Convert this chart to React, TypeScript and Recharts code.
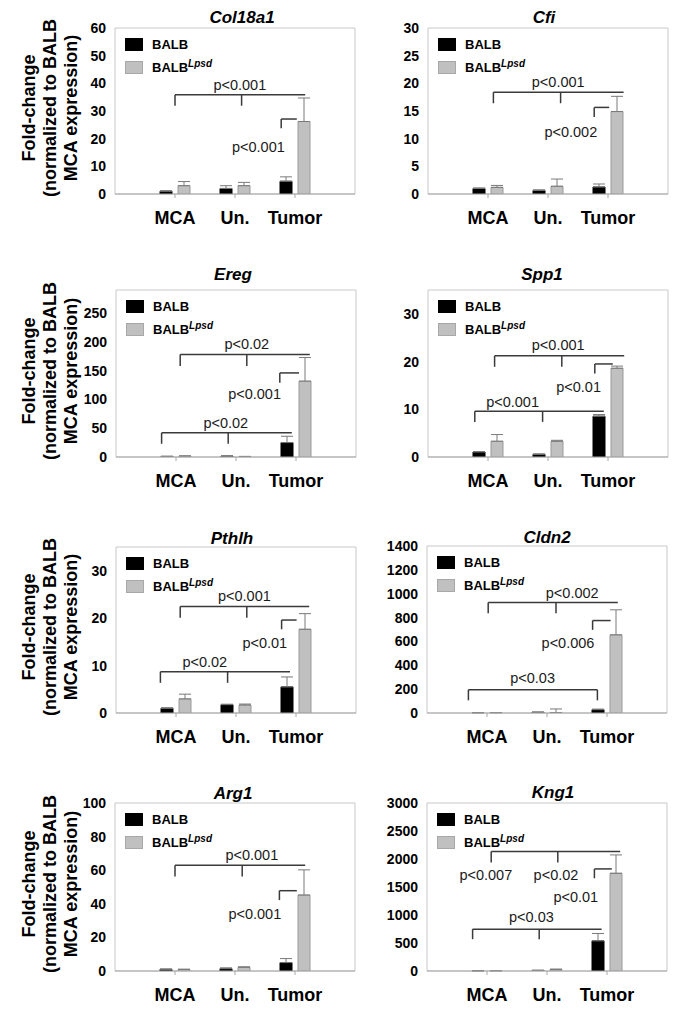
import React from "react";
import {
  BarChart,
  Bar,
  XAxis,
  YAxis,
  ErrorBar,
  ReferenceLine,
  ReferenceDot,
  ReferenceArea,
} from "recharts";

const categories = ["MCA", "Un.", "Tumor"];
const categoryPositions = [1, 2, 3];
const seriesNames = ["BALB", "BALB"];
const seriesSuperscripts = ["", "Lpsd"];
const yAxisLabelLines = ["Fold-change", "(normalized to BALB", "MCA expression)"];

// bracket: [xStart, xEnd, yLine, yDrop, xMiddleTick | null, yRightDrop | null]
type Bracket = [number, number, number, number, number | null, number | null];
type PLabel = [string, number, number];

// Col18a1
const col18a1Balb = [1.0, 2.0, 4.6];
const col18a1BalbErr = [0.2, 1.0, 1.6];
const col18a1Lpsd = [3.0, 3.0, 26.2];
const col18a1LpsdErr = [1.5, 1.2, 8.5];
const col18a1Ticks = [0, 10, 20, 30, 40, 50, 60];
const col18a1Brackets: Bracket[] = [
  [1.0, 3.17, 35.9, 31.9, 2.11, null],
  [2.77, 3.03, 27.1, 23.8, null, null],
];
const col18a1Labels: PLabel[] = [
  ["p<0.001", 2.08, 39.5],
  ["p<0.001", 2.39, 17.2],
];

// Cfi
const cfiBalb = [1.0, 0.65, 1.26];
const cfiBalbErr = [0.1, 0.1, 0.55];
const cfiLpsd = [1.2, 1.4, 14.9];
const cfiLpsdErr = [0.35, 1.3, 2.75];
const cfiTicks = [0, 5, 10, 15, 20, 25, 30];
const cfiBrackets: Bracket[] = [
  [1.09, 3.26, 18.4, 16.4, 2.21, null],
  [2.77, 3.02, 15.65, 13.9, null, null],
];
const cfiLabels: PLabel[] = [
  ["p<0.001", 2.17, 20.35],
  ["p<0.002", 2.38, 11.3],
];

// Ereg
const eregBalb = [1.0, 1.5, 25];
const eregBalbErr = [0.3, 0.5, 11];
const eregLpsd = [1.5, 0.8, 131.7];
const eregLpsdErr = [0.5, 0.3, 41];
const eregTicks = [0, 50, 100, 150, 200, 250];
const eregBrackets: Bracket[] = [
  [1.07, 3.23, 178, 158, 2.18, null],
  [2.73, 3.05, 146, 129, null, null],
  [0.76, 2.93, 42, 23, 1.87, null],
];
const eregLabels: PLabel[] = [
  ["p<0.02", 2.18, 197],
  ["p<0.001", 2.31, 110],
  ["p<0.02", 1.83, 59],
];

// Spp1
const spp1Balb = [1.05, 0.57, 8.55];
const spp1BalbErr = [0.1, 0.05, 0.35];
const spp1Lpsd = [3.3, 3.3, 18.6];
const spp1LpsdErr = [1.4, 0.2, 0.45];
const spp1Ticks = [0, 10, 20, 30];
const spp1Brackets: Bracket[] = [
  [1.11, 3.27, 21.2, 18.9, 2.23, null],
  [2.78, 3.08, 19.5, 17.5, null, null],
  [0.78, 2.93, 9.6, 7.36, 1.91, null],
];
const spp1Labels: PLabel[] = [
  ["p<0.001", 2.17, 23.6],
  ["p<0.01", 2.51, 14.7],
  ["p<0.001", 1.41, 11.6],
];

// Pthlh
const pthlhBalb = [1.0, 1.76, 5.5];
const pthlhBalbErr = [0.1, 0.1, 2.1];
const pthlhLpsd = [2.97, 1.69, 17.65];
const pthlhLpsdErr = [1.0, 0.2, 3.3];
const pthlhTicks = [0, 10, 20, 30];
const pthlhBrackets: Bracket[] = [
  [1.07, 3.22, 22.45, 20.1, 2.18, null],
  [2.76, 3.01, 19.6, 17.65, null, null],
  [0.74, 2.9, 8.7, 6.36, 1.86, null],
];
const pthlhLabels: PLabel[] = [
  ["p<0.001", 2.14, 24.7],
  ["p<0.01", 2.48, 14.8],
  ["p<0.02", 1.48, 10.8],
];

// Cldn2
const cldn2Balb = [1, 6, 28];
const cldn2BalbErr = [0.5, 2, 5];
const cldn2Lpsd = [2, 4, 655];
const cldn2LpsdErr = [1, 30, 210];
const cldn2Ticks = [0, 200, 400, 600, 800, 1000, 1200, 1400];
const cldn2Brackets: Bracket[] = [
  [1.02, 3.18, 926, 837, 2.15, null],
  [2.76, 3.06, 775, 697, null, null],
  [0.69, 2.84, 195, 106, null, 106],
];
const cldn2Labels: PLabel[] = [
  ["p<0.002", 2.42, 1009],
  ["p<0.006", 2.35, 591],
  ["p<0.03", 1.76, 293],
];

// Arg1
const arg1Balb = [1.0, 1.4, 5.0];
const arg1BalbErr = [0.2, 0.5, 2.4];
const arg1Lpsd = [0.9, 2.2, 45.2];
const arg1LpsdErr = [0.2, 0.3, 15];
const arg1Ticks = [0, 20, 40, 60, 80, 100];
const arg1Brackets: Bracket[] = [
  [1.0, 3.17, 63, 56.2, 2.12, null],
  [2.74, 3.03, 47.8, 42.2, null, null],
];
const arg1Labels: PLabel[] = [
  ["p<0.001", 2.28, 69.1],
  ["p<0.001", 2.33, 33.9],
];

// Kng1
const kng1Balb = [1, 10, 538];
const kng1BalbErr = [1, 5, 132];
const kng1Lpsd = [2, 25, 1745];
const kng1LpsdErr = [1, 10, 328];
const kng1Ticks = [0, 500, 1000, 1500, 2000, 2500, 3000];
const kng1Brackets: Bracket[] = [
  [1.07, 3.22, 2133, 1936, 2.18, null],
  [2.79, 3.08, 1823, 1656, null, null],
  [0.76, 2.91, 747, 568, 1.87, null],
];
const kng1Labels: PLabel[] = [
  ["p<0.007", 0.98, 1715],
  ["p<0.02", 2.15, 1715],
  ["p<0.01", 2.48, 1327],
  ["p<0.03", 1.74, 968],
];

const FONT = '"Liberation Sans", Arial, Helvetica, sans-serif';
const LINE = "#3a3a3a";

type PanelProps = {
  title: string;
  balb: number[];
  balbErr: number[];
  lpsd: number[];
  lpsdErr: number[];
  ticks: number[];
  max: number;
  brackets: Bracket[];
  labels: PLabel[];
  left: number;
  top: number;
  h: number;
  titleX: number;
  titleDy: number;
  yLabel: boolean;
};

function Panel(p: PanelProps) {
  const data = categories.map((c, i) => ({
    cat: c,
    pos: categoryPositions[i],
    balb: p.balb[i],
    balbErr: [0, p.balbErr[i]],
    lpsd: p.lpsd[i],
    lpsdErr: [0, p.lpsdErr[i]],
  }));
  const chartW = 305;
  const chartH = p.h + 75;
  const segs: { a: { x: number; y: number }; b: { x: number; y: number } }[] = [];
  p.brackets.forEach(([x1, x2, y, yd, xm, yr]) => {
    segs.push({ a: { x: x1, y }, b: { x: x2, y } });
    segs.push({ a: { x: x1, y }, b: { x: x1, y: yd } });
    if (xm !== null) segs.push({ a: { x: xm, y }, b: { x: xm, y: yd } });
    if (yr !== null) segs.push({ a: { x: x2, y }, b: { x: x2, y: yr } });
  });
  return (
    <>
      <div
        style={{
          position: "absolute",
          left: p.titleX - 100,
          width: 200,
          top: p.top - p.titleDy - 11,
          height: 22,
          lineHeight: "22px",
          textAlign: "center",
          fontWeight: "bold",
          fontStyle: "italic",
          fontSize: 17,
          fontFamily: FONT,
          color: "#000",
        }}
      >
        {p.title}
      </div>
      {p.yLabel && (
        <div
          style={{
            position: "absolute",
            left: 51 - 120,
            top: p.top + p.h / 2 - 3 - 32,
            width: 240,
            height: 64,
            transform: "rotate(-90deg)",
            transformOrigin: "center center",
            textAlign: "center",
            fontWeight: "bold",
            fontSize: 18,
            lineHeight: "21px",
            fontFamily: FONT,
            color: "#000",
          }}
        >
          {yAxisLabelLines.map((l, i) => (
            <div key={i}>{l}</div>
          ))}
        </div>
      )}
      <div style={{ position: "absolute", left: p.left - 60, top: p.top - 30, width: chartW, height: chartH }}>
        <BarChart
          width={chartW}
          height={chartH}
          data={data}
          margin={{ top: 30, right: 5, left: 20, bottom: 0 }}
          barSize={12}
          barGap={6}
        >
          <XAxis
            xAxisId="c"
            dataKey="cat"
            padding={{ left: 30, right: 30 }}
            height={45}
            tickSize={4}
            tickMargin={13}
            interval={0}
            axisLine={{ stroke: "#a8a8a8" }}
            tickLine={{ stroke: "#a8a8a8" }}
            tick={{ fontSize: 18, fontWeight: "bold", fill: "#000", fontFamily: FONT }}
          />
          <XAxis xAxisId="n" dataKey="pos" type="number" domain={[0, 4]} hide allowDataOverflow />
          <YAxis
            domain={[0, p.max]}
            ticks={p.ticks}
            width={40}
            tickLine={false}
            axisLine={false}
            tickSize={6}
            tickMargin={3}
            interval={0}
            allowDataOverflow
            tick={{ fontSize: 14, fontWeight: "bold", fill: "#000", fontFamily: FONT }}
          />
          <ReferenceArea
            xAxisId="n"
            x1={0}
            x2={4}
            y1={0}
            y2={p.max}
            fill="none"
            fillOpacity={0}
            stroke="#c8c8c8"
            strokeWidth={1}
            ifOverflow="visible"
          />
          <Bar xAxisId="c" dataKey="balb" fill="#000000" stroke="#000000" isAnimationActive={false}>
            <ErrorBar dataKey="balbErr" direction="y" width={6} stroke="#7a7a7a" strokeWidth={1} />
          </Bar>
          <Bar xAxisId="c" dataKey="lpsd" fill="#c0c0c0" stroke="#9a9a9a" strokeWidth={1} isAnimationActive={false}>
            <ErrorBar dataKey="lpsdErr" direction="y" width={6} stroke="#7a7a7a" strokeWidth={1} />
          </Bar>
          {segs.map((s, i) => (
            <ReferenceLine
              key={"s" + i}
              xAxisId="n"
              segment={[s.a, s.b]}
              stroke={LINE}
              strokeWidth={1.5}
              ifOverflow="visible"
            />
          ))}
          {p.labels.map(([t, x, y], i) => (
            <ReferenceDot
              key={"l" + i}
              xAxisId="n"
              x={x}
              y={y}
              r={1}
              fill="none"
              stroke="none"
              ifOverflow="visible"
              label={{ value: t, position: "center", fill: "#1a1a1a", fontSize: 14.5, fontFamily: FONT }}
            />
          ))}
        </BarChart>
      </div>
      <div
        style={{
          position: "absolute",
          left: p.left + 10,
          top: p.top + 5,
          fontFamily: FONT,
          fontSize: 13,
          fontWeight: "bold",
          color: "#000",
        }}
      >
        {seriesNames.map((n, i) => (
          <div key={i} style={{ display: "flex", alignItems: "center", height: 23 }}>
            <div
              style={{
                width: 18,
                height: 13,
                boxSizing: "border-box",
                background: i === 0 ? "#000" : "#c0c0c0",
                border: i === 0 ? "none" : "1px solid #a8a8a8",
                marginRight: 9,
              }}
            />
            <span>
              {n}
              {seriesSuperscripts[i] && (
                <sup style={{ fontStyle: "italic", fontSize: 10, verticalAlign: "5px", lineHeight: 0 }}>
                  {seriesSuperscripts[i]}
                </sup>
              )}
            </span>
          </div>
        ))}
      </div>
    </>
  );
}

export default function App() {
  return (
    <div
      style={{
        position: "absolute",
        left: 0,
        top: 0,
        width: 685,
        height: 1013,
        background: "#fff",
        fontFamily: FONT,
      }}
    >
      <Panel title="Col18a1" balb={col18a1Balb} balbErr={col18a1BalbErr} lpsd={col18a1Lpsd} lpsdErr={col18a1LpsdErr}
        ticks={col18a1Ticks} max={60} brackets={col18a1Brackets} labels={col18a1Labels}
        left={115} top={28} h={166} titleX={242} titleDy={10} yLabel={true} />
      <Panel title="Cfi" balb={cfiBalb} balbErr={cfiBalbErr} lpsd={cfiLpsd} lpsdErr={cfiLpsdErr}
        ticks={cfiTicks} max={30} brackets={cfiBrackets} labels={cfiLabels}
        left={428} top={28} h={166} titleX={544} titleDy={10} yLabel={false} />
      <Panel title="Ereg" balb={eregBalb} balbErr={eregBalbErr} lpsd={eregLpsd} lpsdErr={eregLpsdErr}
        ticks={eregTicks} max={290} brackets={eregBrackets} labels={eregLabels}
        left={116} top={290} h={167} titleX={233} titleDy={15} yLabel={true} />
      <Panel title="Spp1" balb={spp1Balb} balbErr={spp1BalbErr} lpsd={spp1Lpsd} lpsdErr={spp1LpsdErr}
        ticks={spp1Ticks} max={35} brackets={spp1Brackets} labels={spp1Labels}
        left={428} top={290} h={167} titleX={542} titleDy={15} yLabel={false} />
      <Panel title="Pthlh" balb={pthlhBalb} balbErr={pthlhBalbErr} lpsd={pthlhLpsd} lpsdErr={pthlhLpsdErr}
        ticks={pthlhTicks} max={35} brackets={pthlhBrackets} labels={pthlhLabels}
        left={116} top={547} h={166} titleX={232} titleDy={8} yLabel={true} />
      <Panel title="Cldn2" balb={cldn2Balb} balbErr={cldn2BalbErr} lpsd={cldn2Lpsd} lpsdErr={cldn2LpsdErr}
        ticks={cldn2Ticks} max={1400} brackets={cldn2Brackets} labels={cldn2Labels}
        left={427} top={546} h={167} titleX={547} titleDy={8} yLabel={false} />
      <Panel title="Arg1" balb={arg1Balb} balbErr={arg1BalbErr} lpsd={arg1Lpsd} lpsdErr={arg1LpsdErr}
        ticks={arg1Ticks} max={100} brackets={arg1Brackets} labels={arg1Labels}
        left={115} top={803} h={168} titleX={233} titleDy={9} yLabel={true} />
      <Panel title="Kng1" balb={kng1Balb} balbErr={kng1BalbErr} lpsd={kng1Lpsd} lpsdErr={kng1LpsdErr}
        ticks={kng1Ticks} max={3000} brackets={kng1Brackets} labels={kng1Labels}
        left={427} top={803} h={168} titleX={553} titleDy={10} yLabel={false} />
    </div>
  );
}
